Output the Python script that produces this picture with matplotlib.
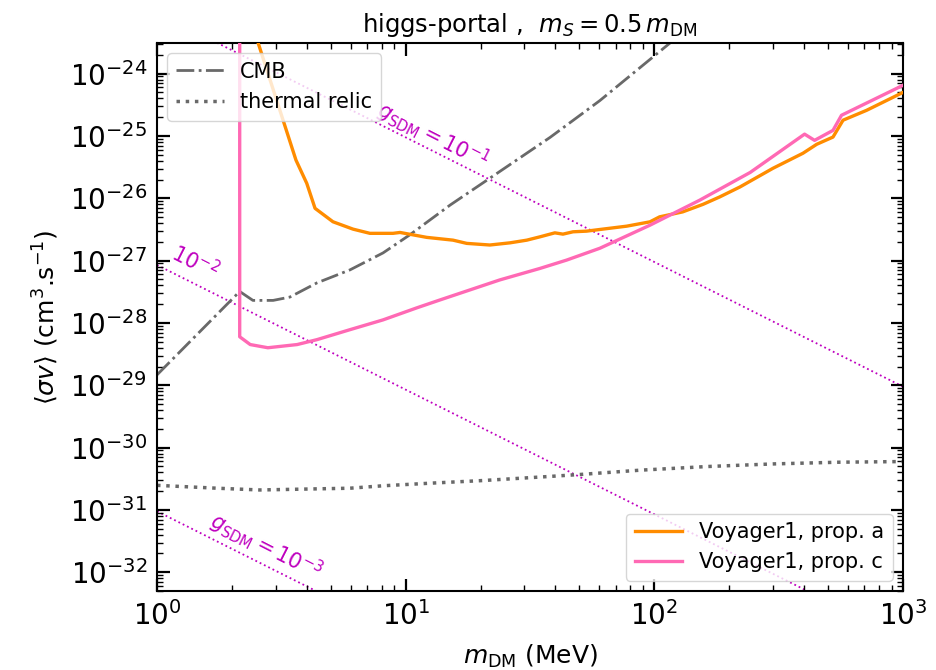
import numpy as np
import matplotlib
matplotlib.use("Agg")
import matplotlib.pyplot as plt
from matplotlib.ticker import FixedLocator, NullFormatter, LogFormatterSciNotation

# ---------------- data ----------------
orange_m = [2.37, 3.62, 4.00, 4.32, 5.10, 6.14, 7.18, 8.89, 9.49, 12.15, 15.5, 17.6,
            21.8, 26.3, 30.7, 34.7, 39.8, 42.9, 47.1, 53.4, 60.4, 77.4, 96, 105, 130,
            157, 183, 221, 300, 396, 450, 523, 574, 714, 1000]
orange_sv = [7.7e-24, 4.1e-26, 1.74e-26, 6.9e-27, 4.2e-27, 3.2e-27, 2.74e-27, 2.74e-27,
             2.83e-27, 2.36e-27, 2.13e-27, 1.89e-27, 1.78e-27, 1.93e-27, 2.13e-27,
             2.41e-27, 2.79e-27, 2.66e-27, 2.90e-27, 2.97e-27, 3.16e-27, 3.57e-27,
             4.19e-27, 5.04e-27, 6.05e-27, 8.0e-27, 1.05e-26, 1.52e-26, 3.03e-26,
             5.28e-26, 7.36e-26, 9.6e-26, 1.79e-25, 2.58e-25, 5.0e-25]

pink_m = [2.15, 2.15, 2.37, 2.79, 3.66, 4.40, 5.97, 8.11, 11.1, 13.7, 23.9, 34.7, 44.4,
          60.4, 96, 152, 243, 402, 441, 523, 566, 1000]
pink_sv = [1e-20, 6.0e-29, 4.5e-29, 4.0e-29, 4.5e-29, 5.4e-29, 7.8e-29, 1.12e-28,
           1.75e-28, 2.33e-28, 4.9e-28, 7.5e-28, 1.02e-27, 1.58e-27, 3.7e-27, 9.3e-27,
           2.6e-26, 1.07e-25, 8.5e-26, 1.23e-25, 2.15e-25, 6.5e-25]

cmb_m = [1.0, 2.15, 2.43, 2.93, 3.42, 4.40, 5.97, 8.11, 10.4, 15.1, 21.8, 38.1, 60.4,
         115.6, 152]
cmb_sv = [1.47e-29, 3.2e-28, 2.3e-28, 2.3e-28, 2.6e-28, 4.4e-28, 7.1e-28, 1.33e-27,
          2.6e-27, 7.8e-27, 2.1e-26, 9.5e-26, 3.7e-25, 3.1e-24, 8.5e-24]

relic_m = [1.0, 1.74, 2.59, 5.97, 8.11, 12.9, 20.4, 36.9, 50.1, 87.6, 162, 300, 554, 1000]
relic_sv = [2.48e-31, 2.23e-31, 2.09e-31, 2.23e-31, 2.44e-31, 2.70e-31, 2.96e-31,
            3.42e-31, 3.70e-31, 4.34e-31, 4.96e-31, 5.47e-31, 5.83e-31, 5.97e-31]

# g_SDM reference lines: endpoints (m = 1 MeV and m = 1000 MeV)
g_line_m = [1.0, 1000.0]
g_line_sv = {
    "1e-1": [9.5e-24, 9.5e-30],
    "1e-2": [8.5e-28, 8.5e-34],
    "1e-3": [9.5e-32, 9.5e-38],
}
g_labels = [r"$g_{\rm SDM} = 10^{-1}$", r"$10^{-2}$", r"$g_{\rm SDM} = 10^{-3}$"]

x_major = [1, 10, 100, 1000]
y_major = [1e-32, 1e-31, 1e-30, 1e-29, 1e-28, 1e-27, 1e-26, 1e-25, 1e-24]

title = r"higgs-portal ,  $m_S = 0.5\,m_{\rm DM}$"

# ---------------- figure ----------------
fig = plt.figure(figsize=(9.37, 6.70), dpi=100)
ax = fig.add_axes([0.1676, 0.1179, 0.7961, 0.8179])
ax.set_xscale("log")
ax.set_yscale("log")

mag = (0.75, 0.0, 0.75)
for key in ["1e-1", "1e-2", "1e-3"]:
    ax.plot(g_line_m, g_line_sv[key], ls=":", color=mag, lw=1.3, zorder=1)

l_cmb, = ax.plot(cmb_m, cmb_sv, ls="-.", color="dimgray", lw=2.0, label="CMB", zorder=2)
l_rel, = ax.plot(relic_m, relic_sv, ls=":", color="dimgray", lw=2.5,
                 label="thermal relic", zorder=2)
l_a, = ax.plot(orange_m, orange_sv, color="darkorange", lw=2.4,
               label="Voyager1, prop. a", zorder=3)
l_c, = ax.plot(pink_m, pink_sv, color="hotpink", lw=2.4,
               label="Voyager1, prop. c", zorder=3)

ax.set_xlim(1, 1000)
ax.set_ylim(5.0e-33, 3.1e-24)

# labels of g lines
ax.text(12.9, 1.0e-25, g_labels[0], color=mag, fontsize=15, rotation=-27,
        ha="center", va="center")
ax.text(1.42, 9.5e-28, g_labels[1], color=mag, fontsize=15, rotation=-27,
        ha="center", va="center")
ax.text(2.74, 2.6e-32, g_labels[2], color=mag, fontsize=15, rotation=-27,
        ha="center", va="center")

ax.set_title(title, fontsize=17.5, pad=8)
ax.set_xlabel(r"$m_{\rm DM}$ (MeV)", fontsize=18, labelpad=9)
ax.set_ylabel(r"$\langle\sigma v\rangle$ (cm$^3$.s$^{-1}$)", fontsize=18, labelpad=6)

# ticks restricted to the visible range
y_minor = [k * d for d in [1e-33] + y_major for k in range(2, 10)]
y_minor = [v for v in y_minor if 5.0e-33 <= v <= 3.1e-24]
x_minor = [k * d for d in x_major[:-1] for k in range(2, 10)]
ax.xaxis.set_major_locator(FixedLocator(x_major))
ax.xaxis.set_minor_locator(FixedLocator(x_minor))
ax.yaxis.set_major_locator(FixedLocator(y_major))
ax.yaxis.set_minor_locator(FixedLocator(y_minor))
ax.xaxis.set_major_formatter(LogFormatterSciNotation())
ax.yaxis.set_major_formatter(LogFormatterSciNotation())
ax.xaxis.set_minor_formatter(NullFormatter())
ax.yaxis.set_minor_formatter(NullFormatter())
ax.tick_params(which="both", direction="in", top=True, right=True)
ax.tick_params(which="major", length=9, width=1.6, labelsize=20, pad=7)
ax.tick_params(which="minor", length=4.5, width=1.0)
for s in ax.spines.values():
    s.set_linewidth(1.5)

leg1 = ax.legend(handles=[l_cmb, l_rel], loc="upper left", fontsize=15, handlelength=2.3)
ax.add_artist(leg1)
ax.legend(handles=[l_a, l_c], loc="lower right", fontsize=15, handlelength=2.3)

fig.savefig("out.png", dpi=100)
